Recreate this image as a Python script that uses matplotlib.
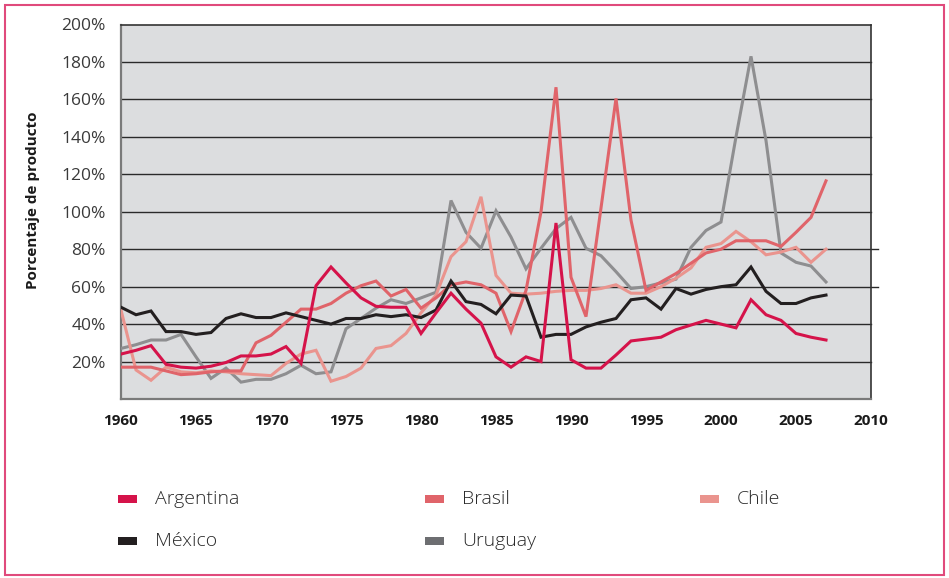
import matplotlib
matplotlib.use("Agg")
import matplotlib.pyplot as plt
from matplotlib.patches import Rectangle
import numpy as np

plt.rcParams['font.family'] = ['Open Sans', 'DejaVu Sans']

years = list(range(1960, 2008))

argentina = [24, 26, 28.5, 18.5, 17, 16.5, 17.5, 19.5, 23, 23,
             24, 28, 19, 60.5, 70.5, 62, 54, 49.5, 49, 49,
             35, 46, 56.5, 48, 40.5, 22.5, 17, 22.5, 20, 94,
             21, 16.5, 16.5, 23.5, 31, 32, 33, 37, 39.5, 42,
             40, 38, 53, 45, 42, 35, 33, 31.5]

brasil = [17, 17, 17, 15, 13, 13.5, 14.5, 15, 15, 30,
          34, 41, 48, 48, 51, 56.5, 60.5, 63, 55, 58.5,
          48.5, 54, 61, 62.5, 61, 56.5, 36, 58, 100, 166.5,
          65, 44, 102, 160.5, 95.5, 58, 62.5, 67, 72.5, 78,
          80, 84.5, 84.5, 84.5, 81.5, 89, 97, 116.5]

chile = [47.5, 15.5, 10, 17, 14.5, 14, 15, 14.5, 13.5, 13,
         12.5, 19, 24, 26, 9.5, 12, 16.5, 27, 28.5, 35,
         46, 55.5, 76, 84, 108, 66, 56.5, 56, 56.5, 57.5,
         58, 58, 59, 61, 56.5, 56.5, 60, 64.5, 70, 81,
         83, 89.5, 84, 77, 78.5, 81, 73, 80]

mexico = [49, 45, 47, 36, 36, 34.5, 35.5, 43, 45.5, 43.5,
          43.5, 46, 44, 42, 40, 43, 43, 45, 44, 45,
          43.5, 47.5, 63, 52, 50.5, 45.5, 55.5, 55, 33, 34.5,
          34.5, 38.5, 41, 43, 53, 54, 48, 59, 56, 58.5,
          60, 61, 70.5, 57.5, 51, 51, 54, 55.5]

uruguay = [27, 29, 31.5, 31.5, 34.5, 22.5, 11, 16.5, 9, 10.5,
           10.5, 13.5, 18, 13.5, 14.5, 37.5, 43, 48.5, 53, 51,
           54, 57, 106, 89, 80.5, 100.5, 86.5, 69.5, 80.5, 91,
           97, 80.5, 76.5, 68, 59, 60, 62, 64, 81, 90,
           94.5, 140, 183, 138, 78, 73, 71, 62.5]

series_names = ["Argentina", "Brasil", "Chile", "México", "Uruguay"]
series_data = [argentina, brasil, chile, mexico, uruguay]
line_colors = ["#d5134a", "#e0646a", "#ea948e", "#231f20", "#8e8e90"]
legend_colors = ["#d5134a", "#e0646a", "#ea948e", "#231f20", "#6d6e71"]

ytick_vals = [20, 40, 60, 80, 100, 120, 140, 160, 180, 200]
ytick_labels = ["20%", "40%", "60%", "80%", "100%", "120%", "140%", "160%", "180%", "200%"]
xtick_vals = [1960, 1965, 1970, 1975, 1980, 1985, 1990, 1995, 2000, 2005, 2010]
xtick_labels = [str(v) for v in xtick_vals]

W, H = 949, 578
fig = plt.figure(figsize=(W / 100, H / 100), dpi=100)
ax = fig.add_axes([121 / W, 1 - 399 / H, 750 / W, (399 - 24.5) / H])
ax.set_facecolor("#dcdddf")

for yv in ytick_vals[:-1]:
    ext = 1.009 if yv in (60, 80) else 1.0
    ax.axhline(yv, xmin=0, xmax=ext, color="#2a2a2a", lw=1.0, zorder=1,
               clip_on=False)

# drawing order: back to front
order = [4, 2, 1, 3, 0]
for i in order:
    ax.plot(years, series_data[i], color=line_colors[i], lw=2.2, zorder=3,
            solid_joinstyle="miter")

ax.set_xlim(1960, 2010)
ax.set_ylim(0, 200)
ax.set_yticks(ytick_vals)
ax.set_yticklabels(ytick_labels, fontsize=12.5, color="#3a3a3a")
ax.set_xticks(xtick_vals)
ax.set_xticklabels(xtick_labels, fontsize=11, fontweight="bold", color="#1a1a1a")
ax.tick_params(axis="both", length=0)
ax.tick_params(axis="y", pad=11)
ax.tick_params(axis="x", pad=11)

for side in ["top", "right"]:
    ax.spines[side].set_color("#333333")
    ax.spines[side].set_linewidth(1.2)
for side in ["left", "bottom"]:
    ax.spines[side].set_color("#7a7a7a")
    ax.spines[side].set_linewidth(1.6)

fig.text(33 / W, 1 - 200 / H, "Porcentaje de producto", rotation=90,
         ha="center", va="center", fontsize=11, fontweight="bold", color="#1a1a1a")

# legend (manual layout)
leg_pos = [(118, 499), (425, 499), (700, 499), (118, 541), (425, 541)]
for (px, py), name, col in zip(leg_pos, series_names, legend_colors):
    fig.patches.append(Rectangle((px / W, 1 - (py + 4) / H), 19 / W, 8 / H,
                                 transform=fig.transFigure, facecolor=col,
                                 edgecolor="none"))
    fig.text((px + 37) / W, 1 - py / H, name, ha="left", va="center",
             fontsize=14, color="#2a2a2a", fontweight="light")

# outer border
fig.patches.append(Rectangle((5 / W, 3 / H), 939 / W, 570 / H,
                             transform=fig.transFigure, facecolor="none",
                             edgecolor="#e04a7c", lw=1.5))

fig.savefig("out.png", dpi=100, facecolor="white")
